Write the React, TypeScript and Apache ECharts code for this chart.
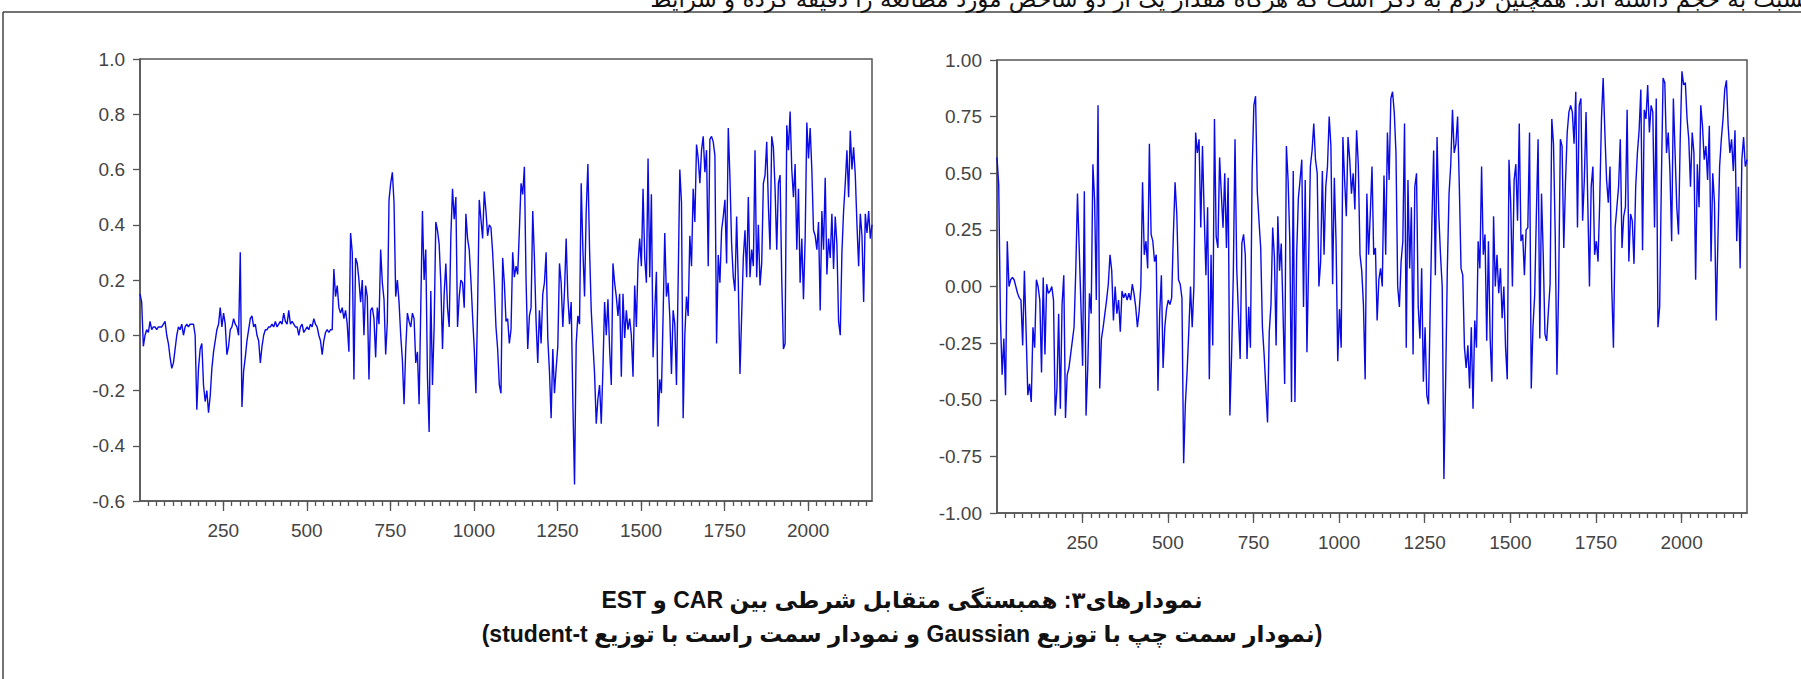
import React, { useEffect, useRef } from "react";
import * as echarts from "echarts";

// Observation index of the first point and spacing between read-off points
const OBS_START = 1;
const OBS_STEP = 5;
const OBS_MAX = 2191;

const X_MAJOR_TICKS = [250, 500, 750, 1000, 1250, 1500, 1750, 2000];
const LEFT_Y_TICKS = [-0.6, -0.4, -0.2, 0.0, 0.2, 0.4, 0.6, 0.8, 1.0];
const RIGHT_Y_TICKS = [-1.0, -0.75, -0.5, -0.25, 0.0, 0.25, 0.5, 0.75, 1.0];

// Left panel: Gaussian conditional correlation (every 5 obs)
const gaussianCorr = [
  0.15, 0.12, -0.04, 0.0, 0.02, 0.01, 0.05, 0.02, 0.03, 0.03, 0.02, 0.03, 0.03, 0.03, 0.04, 0.05, 0.0, -0.03, -0.08, -0.12,
  -0.1, -0.05, 0.0, 0.03, 0.02, 0.04, 0.0, 0.03, 0.04, 0.03, 0.04, 0.04, 0.04, 0.0, -0.27, -0.12, -0.05, -0.03, -0.18, -0.24,
  -0.2, -0.28, -0.22, -0.12, -0.06, -0.02, 0.02, 0.04, 0.1, 0.03, 0.08, 0.04, -0.07, -0.04, 0.02, 0.03, 0.06, 0.04, 0.03, 0.0,
  0.3, -0.26, -0.13, -0.08, -0.02, 0.02, 0.06, 0.07, 0.03, 0.04, 0.0, -0.02, -0.1, -0.04, 0.0, 0.02, 0.02, 0.03, 0.03, 0.04,
  0.03, 0.05, 0.03, 0.04, 0.05, 0.04, 0.08, 0.05, 0.04, 0.09, 0.04, 0.05, 0.04, 0.03, 0.03, 0.0, 0.03, 0.04, 0.01, 0.02,
  0.03, 0.02, 0.04, 0.03, 0.06, 0.04, 0.03, 0.0, -0.02, -0.07, -0.02, 0.01, 0.02, 0.01, 0.02, 0.02, 0.24, 0.14, 0.18, 0.1,
  0.08, 0.1, 0.06, 0.09, 0.04, -0.06, 0.37, 0.3, -0.16, 0.28, 0.26, 0.2, 0.12, 0.2, 0.0, 0.18, 0.14, -0.16, 0.09, 0.1,
  0.06, -0.08, 0.1, 0.04, 0.31, 0.19, 0.13, -0.07, 0.05, 0.49, 0.55, 0.59, 0.48, 0.14, 0.2, 0.12, 0.0, -0.09, -0.25, -0.05,
  0.08, 0.05, 0.03, 0.08, 0.06, -0.1, -0.06, -0.25, 0.1, 0.45, 0.2, 0.31, -0.15, -0.35, 0.16, -0.18, 0.03, 0.41, 0.38, 0.33,
  0.19, -0.05, 0.15, 0.26, 0.1, 0.03, 0.36, 0.53, 0.42, 0.5, 0.03, 0.14, 0.2, 0.19, 0.1, 0.44, 0.35, 0.31, 0.2, 0.07,
  -0.05, -0.21, 0.1, 0.49, 0.42, 0.35, 0.52, 0.45, 0.36, 0.4, 0.39, 0.3, 0.18, 0.03, -0.05, -0.18, -0.21, 0.28, 0.19, 0.05,
  0.06, -0.03, 0.02, 0.3, 0.21, 0.25, 0.22, 0.38, 0.55, 0.51, 0.61, 0.2, -0.05, 0.07, 0.1, 0.45, 0.28, 0.05, -0.1, 0.09,
  -0.03, 0.15, 0.19, 0.3, -0.01, -0.13, -0.3, -0.05, -0.21, -0.12, -0.04, 0.26, 0.19, 0.03, 0.16, 0.35, 0.14, 0.04, 0.12, -0.24,
  -0.54, -0.03, 0.07, 0.04, 0.55, 0.31, 0.14, 0.45, 0.62, 0.31, 0.09, -0.03, -0.14, -0.32, -0.23, -0.18, -0.32, -0.12, 0.12, 0.0,
  0.13, -0.05, -0.18, 0.26, 0.19, 0.14, 0.07, 0.15, -0.15, 0.15, -0.01, 0.09, 0.02, 0.06, 0.0, -0.15, 0.18, 0.03, 0.26, 0.35,
  0.25, 0.53, 0.28, 0.19, 0.64, 0.21, 0.51, -0.08, 0.09, 0.23, -0.33, -0.16, -0.21, 0.07, 0.37, 0.14, 0.19, 0.07, -0.14, 0.09,
  0.04, -0.18, 0.19, 0.6, 0.48, -0.3, 0.0, 0.14, 0.07, 0.36, 0.25, 0.53, 0.41, 0.69, 0.64, 0.55, 0.67, 0.72, 0.59, 0.67,
  0.25, 0.71, 0.72, 0.7, 0.65, -0.03, 0.29, 0.19, 0.38, 0.43, 0.49, 0.26, 0.75, 0.57, 0.33, 0.21, 0.16, 0.43, 0.19, -0.14,
  0.07, 0.28, 0.38, 0.21, 0.5, 0.21, 0.31, 0.25, 0.67, 0.21, 0.4, 0.18, 0.26, 0.55, 0.58, 0.7, 0.47, 0.31, 0.72, 0.68,
  0.53, 0.31, 0.55, 0.58, 0.2, -0.05, -0.03, 0.76, 0.67, 0.81, 0.6, 0.5, 0.62, 0.31, 0.53, 0.19, 0.35, 0.13, 0.35, 0.77,
  0.64, 0.75, 0.6, 0.38, 0.36, 0.31, 0.41, 0.09, 0.45, 0.31, 0.57, 0.22, 0.35, 0.28, 0.44, 0.24, 0.43, 0.33, 0.05, 0.0,
  0.3, 0.45, 0.55, 0.67, 0.5, 0.74, 0.6, 0.68, 0.58, 0.4, 0.25, 0.44, 0.36, 0.12, 0.44, 0.37, 0.45, 0.35, 0.4,
];

// Right panel: student-t conditional correlation (every 5 obs)
const studentTCorr = [
  0.57, 0.45, -0.14, -0.39, -0.23, -0.48, 0.2, 0.0, 0.03, 0.04, 0.03, 0.0, -0.03, -0.05, -0.06, -0.26, 0.07, -0.2, -0.48, -0.43,
  -0.51, -0.18, -0.27, 0.03, 0.0, -0.06, -0.38, 0.04, -0.3, 0.01, -0.03, -0.02, 0.0, -0.06, -0.57, -0.45, -0.12, -0.54, -0.08, 0.05,
  -0.58, -0.39, -0.36, -0.3, -0.24, -0.18, 0.07, 0.41, 0.17, -0.08, -0.35, 0.42, -0.57, -0.36, -0.03, -0.12, 0.54, 0.38, -0.06, 0.8,
  -0.45, -0.23, -0.18, -0.12, -0.06, 0.01, 0.14, 0.07, -0.15, 0.0, -0.12, -0.06, -0.2, -0.02, -0.05, -0.03, -0.06, -0.03, -0.06, 0.01,
  -0.03, -0.09, -0.18, -0.11, 0.0, 0.46, 0.14, 0.2, 0.08, 0.63, 0.23, 0.2, 0.11, 0.14, -0.46, -0.12, 0.05, -0.36, -0.18, -0.1,
  -0.06, -0.08, -0.05, 0.23, 0.46, 0.32, 0.03, 0.01, -0.05, -0.78, -0.52, -0.38, -0.2, 0.0, -0.18, 0.0, 0.68, 0.59, 0.65, 0.26,
  0.62, 0.32, 0.05, 0.35, -0.41, 0.14, -0.26, 0.74, 0.22, 0.17, 0.57, 0.41, 0.26, 0.5, 0.17, 0.48, -0.57, -0.3, 0.05, 0.65,
  0.08, -0.12, -0.32, 0.19, 0.23, 0.14, -0.32, -0.09, -0.27, 0.51, 0.8, 0.84, 0.42, 0.29, 0.17, -0.18, -0.3, -0.45, -0.6, -0.2,
  -0.08, 0.26, 0.13, -0.26, 0.31, 0.07, 0.19, -0.1, -0.43, 0.62, 0.47, 0.2, -0.51, 0.51, -0.51, 0.14, 0.39, 0.47, 0.56, -0.09,
  0.47, -0.29, 0.11, 0.53, 0.6, 0.72, 0.56, 0.5, 0.0, 0.11, 0.51, 0.14, 0.44, 0.53, 0.75, 0.62, 0.01, 0.48, 0.2, -0.33,
  -0.1, -0.27, 0.66, 0.47, 0.31, 0.66, 0.56, 0.41, 0.5, 0.34, 0.69, 0.54, 0.14, 0.07, -0.08, -0.41, 0.41, 0.14, 0.32, 0.53,
  0.14, 0.17, -0.15, 0.03, 0.08, 0.0, 0.49, 0.14, 0.68, 0.47, 0.83, 0.86, 0.77, 0.59, 0.0, -0.09, 0.11, 0.2, 0.72, -0.27,
  0.47, 0.08, 0.35, -0.3, 0.44, 0.5, -0.09, -0.23, 0.08, -0.42, -0.18, -0.48, -0.52, -0.09, 0.29, 0.6, 0.05, 0.66, 0.32, 0.14,
  0.0, -0.85, -0.42, 0.08, 0.41, 0.54, 0.78, 0.59, 0.63, 0.75, 0.44, 0.08, 0.05, -0.27, -0.36, -0.26, -0.45, -0.18, -0.54, -0.15,
  -0.27, 0.2, 0.08, 0.53, 0.14, 0.23, -0.24, 0.2, -0.23, -0.42, 0.31, 0.0, 0.14, -0.03, 0.08, -0.14, 0.0, -0.27, -0.41, 0.56,
  0.37, 0.0, 0.47, 0.54, 0.29, 0.72, 0.2, 0.23, 0.05, 0.25, 0.26, 0.68, -0.45, -0.18, -0.04, 0.32, 0.65, -0.23, 0.41, 0.14,
  -0.21, -0.24, -0.11, 0.01, 0.74, 0.63, 0.23, -0.39, 0.0, 0.65, 0.62, 0.17, 0.46, 0.68, 0.77, 0.8, 0.77, 0.63, 0.86, 0.26,
  0.8, 0.83, 0.29, 0.47, 0.77, 0.38, 0.0, 0.44, 0.53, 0.14, 0.2, 0.11, 0.38, 0.74, 0.92, 0.68, 0.47, 0.37, 0.53, 0.0,
  -0.27, 0.26, 0.35, 0.44, 0.65, 0.17, 0.31, 0.35, 0.78, 0.11, 0.32, 0.29, 0.1, 0.44, 0.59, 0.69, 0.87, 0.16, 0.78, 0.74,
  0.89, 0.68, 0.8, 0.77, 0.26, 0.83, -0.18, -0.09, 0.47, 0.92, 0.9, 0.59, 0.68, 0.51, 0.2, 0.83, 0.59, 0.35, 0.23, 0.65,
  0.95, 0.89, 0.9, 0.74, 0.65, 0.44, 0.68, 0.59, 0.03, 0.54, 0.35, 0.8, 0.71, 0.56, 0.62, 0.47, 0.71, 0.11, 0.5, 0.37,
  -0.15, 0.2, 0.53, 0.65, 0.74, 0.87, 0.91, 0.71, 0.59, 0.65, 0.51, 0.69, 0.2, 0.44, 0.08, 0.56, 0.66, 0.53, 0.56,
];

const CAPTION_TITLE = "نمودارهای۳: همبستگی متقابل شرطی بین CAR و EST";
const CAPTION_SUB = "(نمودار سمت چپ با توزیع Gaussian و نمودار سمت راست با توزیع student-t)";
const TOP_TEXT = "نسبت به حجم داشته اند. همچنین لازم به ذکر است که هرگاه مقدار یک از دو شاخص مورد مطالعه را دقیقه کرده و شرایط";

const AXIS_COLOR = "#555";
const LABEL_COLOR = "#444";
const LINE_COLOR = "#0a0ae8";
const FONT = "'Liberation Sans', Arial, 'DejaVu Sans', sans-serif";

const toPairs = (vals: number[]) => vals.map((v, i) => [OBS_START + i * OBS_STEP, v]);
const minorTicks = () => {
  const out: number[] = [];
  for (let t = 25; t < OBS_MAX; t += 25) out.push(t);
  return out;
};

function xAxesFor(gridIndex: number) {
  const lineStyle = { color: AXIS_COLOR, width: 1.5 };
  return [
    {
      gridIndex,
      type: "value",
      min: OBS_START,
      max: OBS_MAX,
      axisLine: { show: true, onZero: false, lineStyle },
      axisTick: { show: true, customValues: X_MAJOR_TICKS, length: 10, lineStyle: { color: AXIS_COLOR, width: 1.3 } },
      axisLabel: {
        customValues: X_MAJOR_TICKS,
        margin: 20,
        color: LABEL_COLOR,
        fontSize: 19,
        fontFamily: FONT,
        formatter: (v: number) => String(v),
      },
      splitLine: { show: false },
    },
    {
      gridIndex,
      type: "value",
      min: OBS_START,
      max: OBS_MAX,
      position: "bottom",
      axisLine: { show: false, onZero: false },
      axisTick: { show: true, customValues: minorTicks(), length: 5, lineStyle: { color: AXIS_COLOR, width: 1.3 } },
      axisLabel: { show: false },
      splitLine: { show: false },
    },
  ];
}

function yAxisFor(gridIndex: number, ticks: number[], digits: number) {
  return {
    gridIndex,
    type: "value",
    min: ticks[0],
    max: ticks[ticks.length - 1],
    axisLine: { show: true, onZero: false, lineStyle: { color: AXIS_COLOR, width: 1.5 } },
    axisTick: { show: true, customValues: ticks, length: 7, lineStyle: { color: AXIS_COLOR, width: 1.3 } },
    axisLabel: {
      customValues: ticks,
      margin: 15,
      color: LABEL_COLOR,
      fontSize: 19,
      fontFamily: FONT,
      formatter: (v: number) => v.toFixed(digits),
    },
    splitLine: { show: false },
  };
}

export default function App() {
  const ref = useRef<HTMLDivElement>(null);

  useEffect(() => {
    const el = ref.current;
    if (!el) return;
    const chart = echarts.init(el, undefined, { renderer: "svg" });
    const gridBase = { show: true, borderColor: AXIS_COLOR, borderWidth: 1.5, backgroundColor: "#fff" };
    chart.setOption({
      animation: false,
      backgroundColor: "#fff",
      grid: [
        { ...gridBase, left: 140, top: 59, width: 732, height: 442 },
        { ...gridBase, left: 997, top: 60, width: 750, height: 453 },
      ],
      xAxis: [...xAxesFor(0), ...xAxesFor(1)],
      yAxis: [yAxisFor(0, LEFT_Y_TICKS, 1), yAxisFor(1, RIGHT_Y_TICKS, 2)],
      series: [
        {
          type: "line",
          xAxisIndex: 0,
          yAxisIndex: 0,
          data: toPairs(gaussianCorr),
          showSymbol: false,
          silent: true,
          lineStyle: { color: LINE_COLOR, width: 1.4 },
        },
        {
          type: "line",
          xAxisIndex: 2,
          yAxisIndex: 1,
          data: toPairs(studentTCorr),
          showSymbol: false,
          silent: true,
          lineStyle: { color: LINE_COLOR, width: 1.4 },
        },
      ],
      graphic: [
        { type: "line", shape: { x1: 3, y1: 12, x2: 1801, y2: 12 }, style: { stroke: "#444", lineWidth: 1.5 }, silent: true },
        { type: "line", shape: { x1: 3, y1: 12, x2: 3, y2: 679 }, style: { stroke: "#444", lineWidth: 1.5 }, silent: true },
        {
          type: "text",
          x: 1230,
          y: -1,
          silent: true,
          style: { text: TOP_TEXT, fill: "#111", font: "23px 'DejaVu Sans', sans-serif", textAlign: "center", textVerticalAlign: "middle" },
        },
        {
          type: "text",
          x: 902,
          y: 600,
          silent: true,
          style: { text: CAPTION_TITLE, fill: "#111", font: `bold 23px ${FONT}`, textAlign: "center", textVerticalAlign: "middle" },
        },
        {
          type: "text",
          x: 902,
          y: 634,
          silent: true,
          style: { text: CAPTION_SUB, fill: "#111", font: `bold 23px ${FONT}`, textAlign: "center", textVerticalAlign: "middle" },
        },
      ],
    });
    el.querySelectorAll("text").forEach((t) => {
      if (/[\u0600-\u06FF]/.test(t.textContent || "")) {
        t.setAttribute("direction", "rtl");
        (t as SVGTextElement).style.direction = "rtl";
        (t as SVGTextElement).style.unicodeBidi = "embed";
      }
    });
    return () => chart.dispose();
  }, []);

  return (
    <div
      ref={ref}
      style={{ position: "absolute", left: 0, top: 0, width: 1801, height: 679, background: "#fff" }}
    />
  );
}
